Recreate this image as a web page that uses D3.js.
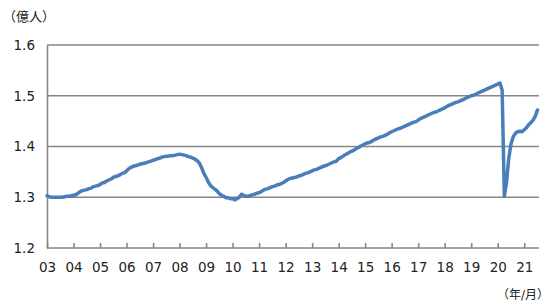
<!DOCTYPE html>
<html>
<head>
<meta charset="utf-8">
<script src="https://cdn.jsdelivr.net/npm/d3@7"></script>
<style>
  html, body {margin: 0; padding: 0; background: #fff;}
  svg text {font-family: "DejaVu Sans", "Noto Sans CJK JP", sans-serif; fill: #222;}
</style>
</head>
<body>
<div id="chart"></div>
<script>
// 億人, monthly, Jan 2003 - Jul 2021 (one row per year)
const payrolls = [
  1.303, 1.301, 1.300, 1.300, 1.300, 1.300, 1.300, 1.300, 1.301, 1.302, 1.302, 1.303,
  1.304, 1.305, 1.308, 1.311, 1.313, 1.314, 1.315, 1.317, 1.318, 1.321, 1.322, 1.323,
  1.325, 1.328, 1.329, 1.332, 1.334, 1.336, 1.339, 1.341, 1.342, 1.344, 1.347, 1.348,
  1.352, 1.356, 1.359, 1.361, 1.362, 1.363, 1.365, 1.366, 1.367, 1.368, 1.370, 1.371,
  1.373, 1.374, 1.376, 1.377, 1.379, 1.380, 1.381, 1.381, 1.382, 1.382, 1.383, 1.384,
  1.385, 1.384, 1.383, 1.382, 1.380, 1.379, 1.377, 1.375, 1.372, 1.367, 1.358, 1.347,
  1.339, 1.330, 1.323, 1.319, 1.316, 1.312, 1.307, 1.304, 1.302, 1.299, 1.299, 1.297,
  1.297, 1.295, 1.297, 1.300, 1.306, 1.304, 1.302, 1.302, 1.303, 1.305, 1.306, 1.308,
  1.309, 1.311, 1.314, 1.316, 1.317, 1.319, 1.321, 1.322, 1.324, 1.325, 1.327, 1.329,
  1.332, 1.335, 1.337, 1.338, 1.339, 1.340, 1.342, 1.343, 1.345, 1.347, 1.348, 1.350,
  1.352, 1.354, 1.355, 1.357, 1.359, 1.361, 1.362, 1.364, 1.366, 1.368, 1.370, 1.371,
  1.376, 1.378, 1.381, 1.384, 1.386, 1.389, 1.391, 1.393, 1.396, 1.398, 1.401, 1.403,
  1.405, 1.407, 1.408, 1.410, 1.413, 1.415, 1.417, 1.419, 1.420, 1.422, 1.424, 1.427,
  1.429, 1.431, 1.433, 1.435, 1.436, 1.438, 1.440, 1.442, 1.444, 1.446, 1.448, 1.449,
  1.452, 1.455, 1.457, 1.459, 1.461, 1.463, 1.465, 1.467, 1.468, 1.470, 1.472, 1.474,
  1.476, 1.479, 1.481, 1.483, 1.485, 1.487, 1.488, 1.490, 1.492, 1.494, 1.496, 1.498,
  1.500, 1.501, 1.503, 1.505, 1.507, 1.509, 1.511, 1.513, 1.515, 1.517, 1.519, 1.521,
  1.523, 1.525, 1.511, 1.302, 1.330, 1.377, 1.405, 1.419, 1.426, 1.429, 1.430, 1.429,
  1.433, 1.437, 1.443, 1.447, 1.452, 1.460, 1.472
];
const yearLabels = ["03","04","05","06","07","08","09","10","11","12",
  "13","14","15","16","17","18","19","20","21"];
const yTicks = [1.2, 1.3, 1.4, 1.5, 1.6];

const width = 550, height = 306;
const plotLeft = 47, plotRight = 537.5, plotTop = 45, plotBottom = 248;

const svg = d3.select("#chart").append("svg")
  .attr("width", width)
  .attr("height", height);

const x = d3.scaleLinear()
  .domain([0, payrolls.length - 1])
  .range([plotLeft, plotRight]);
const y = d3.scaleLinear()
  .domain([1.2, 1.6])
  .range([plotBottom, plotTop]);

const grid = "#868686";

// horizontal grid lines
svg.append("g")
  .selectAll("line")
  .data(yTicks)
  .enter()
  .append("line")
  .attr("x1", plotLeft)
  .attr("x2", plotRight + 1.5)
  .attr("y1", d => y(d))
  .attr("y2", d => y(d))
  .attr("stroke", grid)
  .attr("stroke-width", 1.6);

// y axis
const yAxis = svg.append("g")
  .attr("transform", "translate(" + plotLeft + ",0)")
  .call(d3.axisLeft(y).tickValues(yTicks).tickFormat(d3.format(".1f")).tickSize(0).tickPadding(12));
yAxis.select(".domain")
  .attr("stroke", grid)
  .attr("stroke-width", 1.6);
yAxis.selectAll("text")
  .attr("font-size", 13.5)
  .attr("fill", "#222")
  .style("font-family", "DejaVu Sans, sans-serif");

// x axis, ticks pointing inward
const xAxis = svg.append("g")
  .attr("transform", "translate(0," + plotBottom + ")")
  .call(d3.axisBottom(x)
    .tickValues(yearLabels.map((d, i) => i * 12))
    .tickFormat((d, i) => yearLabels[i])
    .tickSizeInner(-5)
    .tickSizeOuter(0)
    .tickPadding(14));
xAxis.select(".domain").remove();
xAxis.selectAll("line")
  .attr("stroke", grid)
  .attr("stroke-width", 1.6);
xAxis.selectAll("text")
  .attr("font-size", 13.5)
  .attr("fill", "#222")
  .style("font-family", "DejaVu Sans, sans-serif");

// data line
const line = d3.line()
  .x((d, i) => x(i))
  .y(d => y(d));

svg.append("path")
  .datum(payrolls)
  .attr("d", line)
  .attr("fill", "none")
  .attr("stroke", "#4a7ebb")
  .attr("stroke-width", 3.5)
  .attr("stroke-linejoin", "round")
  .attr("stroke-linecap", "round");

// unit labels
svg.append("text")
  .text("（億人）")
  .attr("x", 3)
  .attr("y", 21)
  .attr("font-size", 13);

svg.append("text")
  .text("（年/月）")
  .attr("x", 549)
  .attr("y", 299)
  .attr("text-anchor", "end")
  .attr("font-size", 12);
</script>
</body>
</html>
